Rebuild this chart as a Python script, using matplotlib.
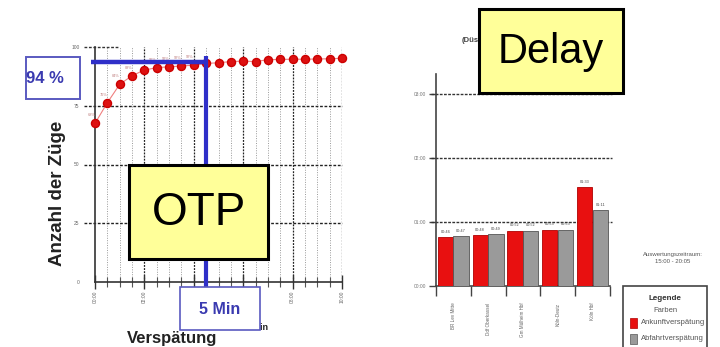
import matplotlib
matplotlib.use("Agg")
import matplotlib.pyplot as plt
from matplotlib.patches import Rectangle
import numpy as np

plt.rcParams['font.family'] = ['Liberation Sans', 'DejaVu Sans']

# --- OTP chart data (share of trains on time vs. delay in minutes)
delay_min = [0, 0.5, 1, 1.5, 2, 2.5, 3, 3.5, 4, 4.5, 5, 5.5, 6, 6.5, 7,
             7.5, 8, 8.5, 9, 9.5, 10]
otp_pct = [67.5, 76.3, 84.1, 87.8, 90.2, 91.2, 91.6, 91.9, 92.3, 93.0, 93.3,
           93.8, 94.0, 93.8, 94.6, 94.7, 94.8, 94.8, 94.9, 95.0, 95.2]
otp_xticks = [0, 2, 4, 6, 8, 10]
otp_xlabels = ["00:00", "02:00", "04:00", "06:00", "08:00", "10:00"]
otp_yticks = [0, 25, 50, 75, 100]
otp_target_pct = 93.5
otp_target_min = 4.5

# --- Delay chart data (average delay in seconds per station)
stations = ["BR Lev Mitte", "Ddf Oberkassel", "Gm Mülheim Hbf", "Köln-Deutz", "Köln Hbf"]
arrival_delay = [46, 48, 52, 53, 93]
departure_delay = [47, 49, 52, 53, 71]
delay_yticks = [0, 60, 120, 180]
delay_ylabels = ["00:00", "01:00", "02:00", "03:00"]

W, H = 720, 347
RED = "#e81010"
GRAY = "#9a9a9a"
BLUE = "#2f2fc8"
BOXBLUE = "#5a5ac0"
YELLOW = "#ffff99"


def fa(x0, y0, x1, y1):
    # pixel box -> figure fraction
    return [x0 / W, 1 - y1 / H, (x1 - x0) / W, (y1 - y0) / H]


def mmss(s):
    return f"{int(s) // 60:02d}:{int(s) % 60:02d}"


fig = plt.figure(figsize=(W / 100, H / 100), dpi=100)

# ---------------- left: OTP curve ----------------
ax = fig.add_axes(fa(95, 47, 342, 282))
ax.set_xlim(0, 10)
ax.set_ylim(0, 100)
for s in ["top", "right"]:
    ax.spines[s].set_visible(False)
ax.spines["left"].set_color("#333333")
ax.spines["bottom"].set_color("#333333")
ax.spines["left"].set_linewidth(1.2)
ax.spines["bottom"].set_linewidth(1.2)

# grid
for x in np.arange(0.5, 10.01, 0.5):
    if x % 2 == 0:
        ax.axvline(x, color="#222222", lw=0.9, ls=(0, (1.5, 1)), zorder=1)
    else:
        ax.axvline(x, color="#999999", lw=0.7, ls=(0, (1, 1.5)), zorder=1)
for y in [25, 50, 75]:
    ax.plot([-0.45, 10], [y, y], color="#222222", lw=1.0, ls=(0, (2, 1.2)),
            clip_on=False, zorder=1)
ax.plot([-0.45, 0.95], [100, 100], color="#333333", lw=1.0, ls=(0, (2, 1.2)),
        clip_on=False, zorder=1)

ax.plot(delay_min, otp_pct, color="#f08080", lw=0.8, zorder=3, clip_on=False)
ax.plot(delay_min, otp_pct, "o", color="#dd1111", ms=5.8, mec="#cc0000",
        zorder=4, clip_on=False)
for x, y in zip(delay_min[:9], otp_pct[:9]):
    ax.text(x - 0.15, y + 2.5, f"{y:.0f}%", fontsize=2.8, color="#c08080",
            ha="center", va="bottom", zorder=3)

ax.set_xticks(otp_xticks)
ax.set_xticklabels(otp_xlabels, rotation=90, fontsize=3.5, color="#666666")
ax.set_xticks(np.arange(0, 10.01, 0.5), minor=True)
ax.tick_params(axis="x", which="major", direction="inout", length=10, width=1.0,
               color="#333333", pad=1)
ax.tick_params(axis="x", which="minor", direction="inout", length=7, width=0.8,
               color="#555555")
ax.set_yticks(otp_yticks)
ax.set_yticklabels([str(v) for v in otp_yticks], fontsize=3.5, color="#666666")
ax.tick_params(axis="y", length=0, pad=11)

# target lines
ax.plot([-0.16, otp_target_min], [otp_target_pct, otp_target_pct], color=BLUE,
        lw=3.2, clip_on=False, zorder=5, solid_capstyle="butt")
ax.plot([otp_target_min, otp_target_min], [96.3, -2.6], color=BLUE, lw=3.0,
        clip_on=False, zorder=5, solid_capstyle="butt")

fig.text(58 / W, 1 - 193 / H, "Anzahl der Züge", rotation=90, ha="center",
         va="center", fontsize=13.5, fontweight="bold", color="#222222")
fig.text(172 / W, 1 - 338 / H, "Verspätung", ha="center", va="center",
         fontsize=12, fontweight="bold", color="#222222")
fig.text(268 / W, 1 - 327 / H, "in Min", ha="right", va="center",
         fontsize=6.5, fontweight="bold", color="#222222")

# ---------------- right: delay bars ----------------
bx = fig.add_axes(fa(436, 74, 610, 286))
bx.set_xlim(0, 5)
bx.set_ylim(0, 199)
for s in ["top", "right"]:
    bx.spines[s].set_visible(False)
bx.spines["left"].set_color("#444444")
bx.spines["bottom"].set_color("#444444")
bx.spines["left"].set_linewidth(1.2)
bx.spines["bottom"].set_linewidth(1.2)

pos = np.arange(len(stations))
bx.bar(pos + 0.27, arrival_delay, width=0.44, color=RED, edgecolor="#b00000",
       lw=0.6, zorder=3)
bx.bar(pos + 0.72, departure_delay, width=0.44, color=GRAY, edgecolor="#555555",
       lw=0.6, zorder=3)
for p, a, d in zip(pos, arrival_delay, departure_delay):
    bx.text(p + 0.27, a + 3, mmss(a), fontsize=2.8, color="#444444",
            ha="center", va="bottom")
    bx.text(p + 0.72, d + 3, mmss(d), fontsize=2.8, color="#444444",
            ha="center", va="bottom")

for y in delay_yticks[1:]:
    bx.plot([-0.15, 5.05], [y, y], color="#333333", lw=1.0, ls=(0, (2, 1)),
            clip_on=False, zorder=2)
bx.set_yticks(delay_yticks)
bx.set_yticklabels(delay_ylabels, fontsize=3.5, color="#777777")
bx.tick_params(axis="y", length=5, width=1.0, color="#444444", pad=2)
bx.set_xticks(pos + 0.5)
bx.set_xticklabels(stations, rotation=90, fontsize=3.3, color="#666666", va="top")
bx.tick_params(axis="x", which="major", length=0, pad=12)
bx.set_xticks(np.arange(0, 5.01, 1), minor=True)
bx.tick_params(axis="x", which="minor", length=7, width=1.0, color="#444444")

fig.text(462 / W, 1 - 40 / H, "(Düs", fontsize=5.5, fontweight="bold",
         color="#444444", ha="left", va="center")
fig.text(673 / W, 1 - 258 / H, "Auswertungszeitraum:\n15:00 - 20:05",
         fontsize=4.3, color="#555555", ha="center", va="center",
         linespacing=1.4)

# ---------------- overlay boxes ----------------
ov = fig.add_axes([0, 0, 1, 1], zorder=10)
ov.set_xlim(0, W)
ov.set_ylim(H, 0)
ov.axis("off")


def box(x0, y0, x1, y1, fc, ec, lw):
    ov.add_patch(Rectangle((x0, y0), x1 - x0, y1 - y0, facecolor=fc,
                           edgecolor=ec, lw=lw))


box(26, 57, 80, 99, "white", BOXBLUE, 1.4)
ov.text(45, 78, "94 %", fontsize=12, color="#3a3ab0", ha="center",
        va="center", fontweight="bold")
box(180, 287, 260, 330, "white", BOXBLUE, 1.2)
ov.text(220, 309, "5 Min", fontsize=11.5, color="#3a3ab0", ha="center",
        va="center", fontweight="bold")
box(129, 165, 268, 259, YELLOW, "black", 2.2)
ov.text(198.5, 213, "OTP", fontsize=33, color="black", ha="center",
        va="center")
box(479, 9, 623, 93, YELLOW, "black", 2.2)
ov.text(551, 52, "Delay", fontsize=30, color="black", ha="center",
        va="center")

# legend
box(623, 286, 707, 352, "white", "#444444", 1.2)
ov.text(665, 299, "Legende", fontsize=5.8, fontweight="bold", color="#333333",
        ha="center", va="center")
ov.text(665, 310, "Farben", fontsize=5.5, color="#555555", ha="center",
        va="center")
box(630, 318, 637, 328, RED, "#b00000", 0.5)
ov.text(641, 323, "Ankunftverspätung", fontsize=5.5, color="#555555",
        ha="left", va="center")
box(630, 334, 637, 344, GRAY, "#555555", 0.5)
ov.text(641, 339, "Abfahrtverspätung", fontsize=5.5, color="#555555",
        ha="left", va="center")

fig.savefig("out.png", dpi=100)
